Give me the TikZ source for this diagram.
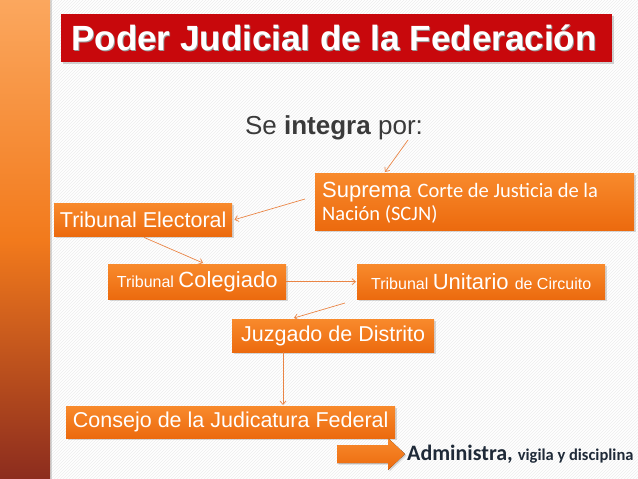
\documentclass[tikz,border=0pt]{standalone}
\usepackage{fontspec}
\setmainfont{Liberation Sans}
\newfontfamily\calib{Carlito}
\usetikzlibrary{shadows,arrows.meta,patterns,calc}
\definecolor{boxtop}{HTML}{F88A2C}
\definecolor{boxbot}{HTML}{EC6A0E}
\definecolor{titlered}{HTML}{C8080C}
\definecolor{conncol}{HTML}{EA8545}
\definecolor{txtdark}{HTML}{3A3A3A}
\definecolor{txtnavy}{HTML}{1F2A38}
\definecolor{bartop}{HTML}{FBA75E}
\definecolor{barmid}{HTML}{F27A1C}
\definecolor{barbot}{HTML}{8C2C1E}
\tikzset{
  obox/.style={draw=none, top color=boxtop, bottom color=boxbot, text=white,
    inner sep=0pt, anchor=north west,
    drop shadow={opacity=0.3, shadow xshift=2pt, shadow yshift=-2pt}},
  conn/.style={draw=conncol, line width=0.7pt, -{Straight Barb[length=3.5pt,width=6pt]}},
  bigtxt/.style={font=\fontsize{21.5}{24}\selectfont},
}
\begin{document}
\begin{tikzpicture}[x=1pt,y=-1pt]
\useasboundingbox (0,0) rectangle (638,479);
\fill[white] (0,0) rectangle (638,479);
\fill[pattern=north east lines, pattern color=black!7] (0,0) rectangle (638,479);
% left bar
\node[anchor=north west, inner sep=0pt, minimum width=50pt, minimum height=479pt,
  top color=bartop, bottom color=barbot, middle color=barmid,
  drop shadow={opacity=0.3, shadow xshift=2pt, shadow yshift=0pt}] (bar) at (0,0) {};
% title
\node[anchor=north west, inner sep=0pt, minimum width=551pt, minimum height=48pt,
  fill=titlered, drop shadow={opacity=0.35, shadow xshift=2pt, shadow yshift=-2pt}] (title) at (61,14) {};
\node[text=black!40, anchor=base, font=\bfseries\fontsize{35}{40}\selectfont] at (335,51) {Poder Judicial de la Federación};
\node[text=white, anchor=base, font=\bfseries\fontsize{35}{40}\selectfont] (titletxt) at (334,50) {Poder Judicial de la Federación};
% subtitle
\node[text=txtdark, font=\fontsize{26}{30}\selectfont, anchor=base] (sub) at (334,134) {Se \textbf{integra} por:};
\coordinate (por) at (408,140);
% boxes
\node[obox, minimum width=319pt, minimum height=57pt] (scjn) at (315,173) {};
\node[anchor=base west, text=white, inner sep=0pt, align=left] at (322,197)
  {\fontsize{22}{24}\selectfont Suprema \calib\fontsize{20.5}{22}\selectfont Corte de Justicia de la};
\node[anchor=base west, text=white, inner sep=0pt] at (322,220)
  {\calib\fontsize{20.5}{22}\selectfont Nación (SCJN)};
\node[obox, minimum width=178pt, minimum height=33pt, bigtxt] (te) at (54,203) {Tribunal Electoral};
\node[obox, minimum width=178pt, minimum height=35pt] (tc) at (108,264)
  {\fontsize{16}{18}\selectfont Tribunal \fontsize{22}{24}\selectfont Colegiado};
\node[obox, minimum width=248pt, minimum height=35pt] (tu) at (357,264)
  {\fontsize{16}{18}\selectfont Tribunal \fontsize{22}{24}\selectfont Unitario \fontsize{16}{18}\selectfont de Circuito};
\node[obox, minimum width=202pt, minimum height=33pt, bigtxt] (jd) at (232,319) {Juzgado de Distrito};
\node[obox, minimum width=329pt, minimum height=32pt, bigtxt] (cj) at (66,406) {Consejo de la Judicatura Federal};
% connectors
\coordinate (s1) at (305,199);
\coordinate (t1) at (345,303);
\draw[conn] (por) -- ($(scjn.north west)+(70,-1)$);
\draw[conn] (s1) -- ($(te.east)+(2,0)$);
\draw[conn] ($(te.south west)+(90,1)$) -- ($(tc.north west)+(95,-1)$);
\draw[conn] (tc.east) -- ($(tu.west)+(-1,0)$);
\draw[conn] (t1) -- ($(jd.north west)+(62,-1)$);
\draw[conn] ($(jd.south west)+(51,0)$) -- ($(cj.north west)+(217,-1)$);
% block arrow
\filldraw[draw=none, top color=boxtop, bottom color=boxbot,
  drop shadow={opacity=0.3, shadow xshift=1.5pt, shadow yshift=-1.5pt}]
  (337,445) -- (388,445) -- (388,438) -- (405,454) -- (388,470) -- (388,463) -- (337,463) -- cycle;
\node[anchor=base west, inner sep=0pt, text=txtnavy] (adm) at (407,460)
  {\calib\bfseries\fontsize{22}{24}\selectfont Administra, \fontsize{16.5}{18}\selectfont vigila y disciplina};
\end{tikzpicture}
\end{document}
